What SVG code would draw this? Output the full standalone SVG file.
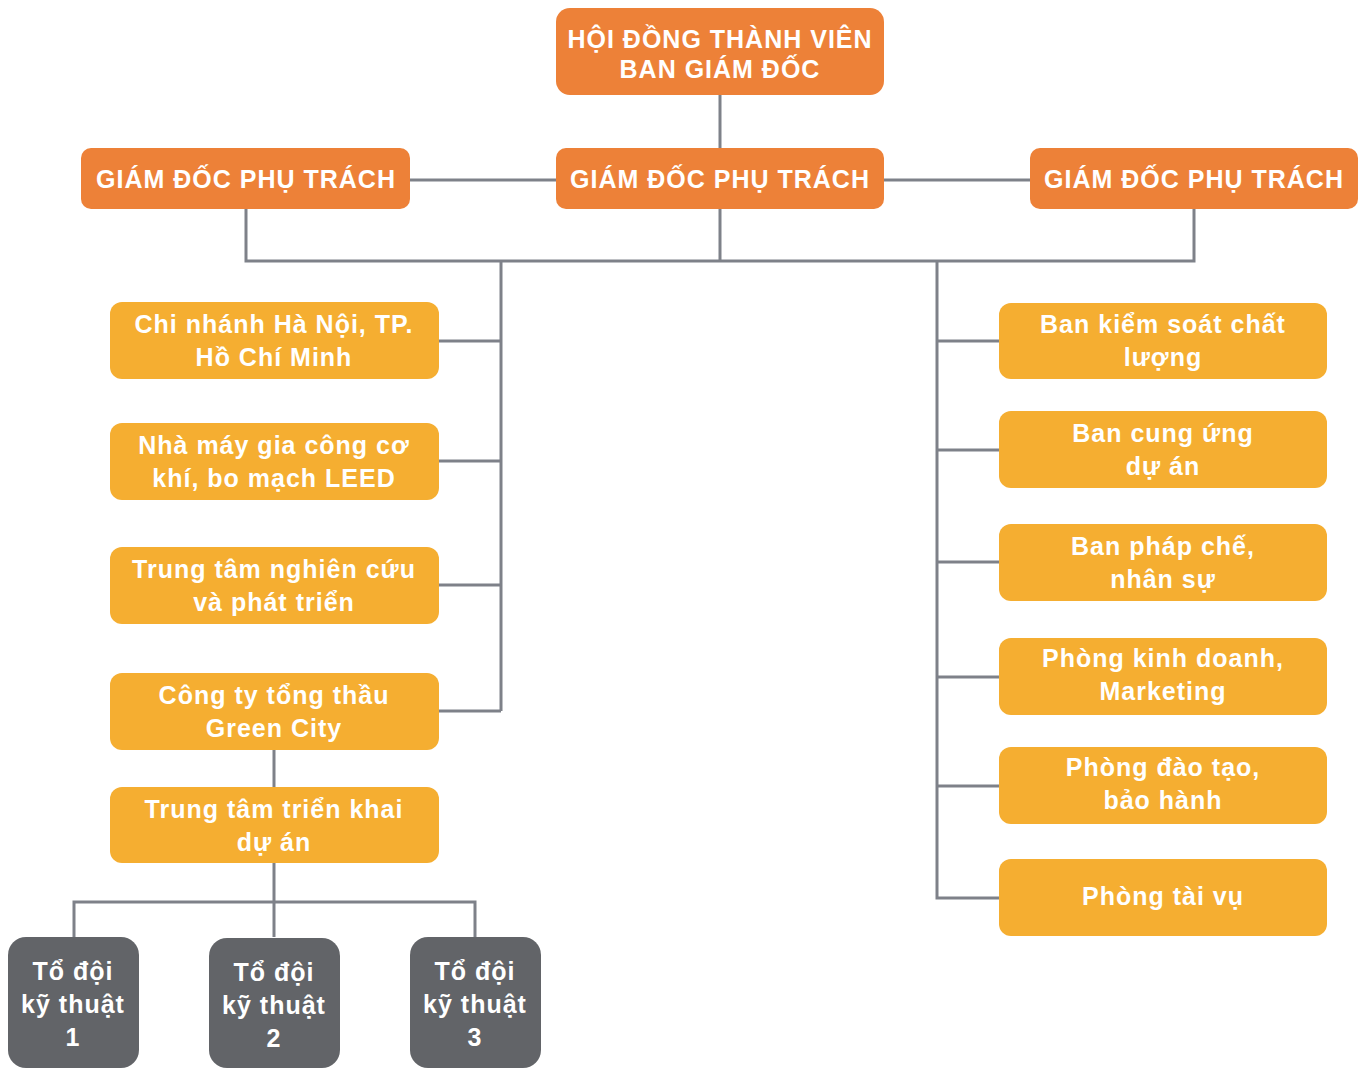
<svg xmlns="http://www.w3.org/2000/svg" width="1368" height="1068" viewBox="0 0 1368 1068">
<style>
.o{fill:#ED8138}
.y{fill:#F5AE31}
.g{fill:#626468}
text{font-family:"Liberation Sans",Arial,sans-serif;font-weight:bold;fill:#fff;text-anchor:middle;font-size:25px;letter-spacing:1px}
.c{stroke:#7E8189;stroke-width:3;fill:none}
</style>
<rect width="1368" height="1068" fill="#fff"/>
<g id="connectors" class="c">
<path d="M720 95V148M410 180H556M884 180H1030"/>
<path d="M246 209V261H1194V209M720 209V261"/>
<path d="M501 261V711M439 341H501M439 461H501M439 585H501M439 711H501"/>
<path d="M274 750V787M274 863V937M74 937V902H475V937"/>
<path d="M937 261V898H999M937 341H999M937 450H999M937 562H999M937 677H999M937 786H999"/>
</g>
<g id="n-top"><rect class="o" x="556" y="8" width="328" height="87" rx="14"/><text x="720" y="48">HỘI ĐỒNG THÀNH VIÊN</text><text x="720" y="78">BAN GIÁM ĐỐC</text></g>
<g id="n-gd1"><rect class="o" x="81" y="148" width="329" height="61" rx="10"/><text x="246" y="188">GIÁM ĐỐC PHỤ TRÁCH</text></g>
<g id="n-gd2"><rect class="o" x="556" y="148" width="328" height="61" rx="10"/><text x="720" y="188">GIÁM ĐỐC PHỤ TRÁCH</text></g>
<g id="n-gd3"><rect class="o" x="1030" y="148" width="328" height="61" rx="10"/><text x="1194" y="188">GIÁM ĐỐC PHỤ TRÁCH</text></g>
<g id="n-l1"><rect class="y" x="110" y="302" width="329" height="77" rx="12"/><text x="274" y="333">Chi nhánh Hà Nội, TP.</text><text x="274" y="366">Hồ Chí Minh</text></g>
<g id="n-l2"><rect class="y" x="110" y="423" width="329" height="77" rx="12"/><text x="274" y="454">Nhà máy gia công cơ</text><text x="274" y="487">khí, bo mạch LEED</text></g>
<g id="n-l3"><rect class="y" x="110" y="547" width="329" height="77" rx="12"/><text x="274" y="578">Trung tâm nghiên cứu</text><text x="274" y="611">và phát triển</text></g>
<g id="n-l4"><rect class="y" x="110" y="673" width="329" height="77" rx="12"/><text x="274" y="704">Công ty tổng thầu</text><text x="274" y="737">Green City</text></g>
<g id="n-l5"><rect class="y" x="110" y="787" width="329" height="76" rx="12"/><text x="274" y="818">Trung tâm triển khai</text><text x="274" y="851">dự án</text></g>
<g id="n-t1"><rect class="g" x="8" y="937" width="131" height="131" rx="18"/><text x="73" y="980">Tổ đội</text><text x="73" y="1013">kỹ thuật</text><text x="73" y="1046">1</text></g>
<g id="n-t2"><rect class="g" x="209" y="938" width="131" height="130" rx="18"/><text x="274" y="981">Tổ đội</text><text x="274" y="1014">kỹ thuật</text><text x="274" y="1047">2</text></g>
<g id="n-t3"><rect class="g" x="410" y="937" width="131" height="131" rx="18"/><text x="475" y="980">Tổ đội</text><text x="475" y="1013">kỹ thuật</text><text x="475" y="1046">3</text></g>
<g id="n-r1"><rect class="y" x="999" y="303" width="328" height="76" rx="12"/><text x="1163" y="333">Ban kiểm soát chất</text><text x="1163" y="366">lượng</text></g>
<g id="n-r2"><rect class="y" x="999" y="411" width="328" height="77" rx="12"/><text x="1163" y="442">Ban cung ứng</text><text x="1163" y="475">dự án</text></g>
<g id="n-r3"><rect class="y" x="999" y="524" width="328" height="77" rx="12"/><text x="1163" y="555">Ban pháp chế,</text><text x="1163" y="588">nhân sự</text></g>
<g id="n-r4"><rect class="y" x="999" y="638" width="328" height="77" rx="12"/><text x="1163" y="667">Phòng kinh doanh,</text><text x="1163" y="700">Marketing</text></g>
<g id="n-r5"><rect class="y" x="999" y="747" width="328" height="77" rx="12"/><text x="1163" y="776">Phòng đào tạo,</text><text x="1163" y="809">bảo hành</text></g>
<g id="n-r6"><rect class="y" x="999" y="859" width="328" height="77" rx="12"/><text x="1163" y="905">Phòng tài vụ</text></g>
</svg>
